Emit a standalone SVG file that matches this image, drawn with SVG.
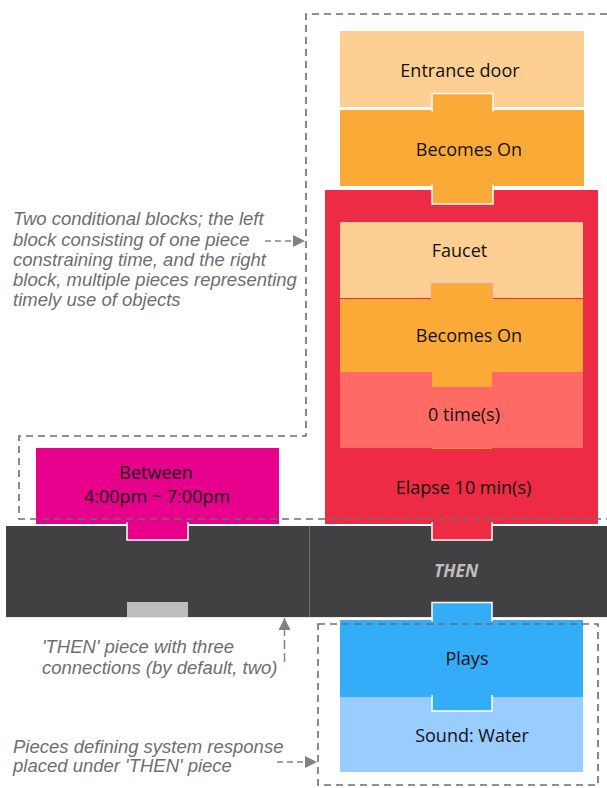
<svg xmlns="http://www.w3.org/2000/svg" width="607" height="788" viewBox="0 0 607 788">
<style>
.lbl{font-family:"Open Sans","Noto Sans",sans-serif;font-size:18px;fill:#111;text-anchor:middle}
.note{font-family:"Liberation Sans",Arial,sans-serif;font-style:italic;font-size:18.5px;fill:#6d6e71}
.then{font-family:"Open Sans","Noto Sans",sans-serif;font-size:17.5px;font-weight:bold;font-style:italic;fill:#bcbec0;text-anchor:middle}
.dash{fill:none;stroke:#6d6e71;stroke-width:1.6;stroke-dasharray:7 5}
.tab{stroke:#fff;stroke-width:1.5}
.peach{fill:#fdcf93}.orange{fill:#fbaa37}.red{fill:#ee2b44}.salmon{fill:#ff6b64}.pink{fill:#e6008c}.dark{fill:#414042}.blue{fill:#33adf8}.lblue{fill:#99ccff}
</style>
<defs>
<marker id="ah2" viewBox="0 0 10 10" refX="10" refY="5" markerWidth="15" markerHeight="12" markerUnits="userSpaceOnUse" orient="auto">
<path d="M0,0 L10,5 L0,10 Z" fill="#808285"/>
</marker>
</defs>

<g id="then-bar">
<rect class="dark" x="6" y="526" width="601" height="91"/>
<line x1="309.5" y1="526" x2="309.5" y2="617" stroke="#6d6e71" stroke-width="1"/>
<line x1="6" y1="617.5" x2="607" y2="617.5" stroke="#e6e7e8" stroke-width="1"/>
<rect x="127" y="602" width="61" height="15" fill="#bcbec0"/>
<text class="then" x="456" y="577">THEN</text>
</g>

<g id="between">
<rect class="pink" x="36" y="448" width="243" height="76"/>
<rect class="pink tab" x="127" y="523" width="61" height="17"/>
<rect class="pink" x="128" y="522" width="59" height="4"/>
<text class="lbl" x="156" y="479">Between</text>
<text class="lbl" x="157" y="503">4:00pm ~ 7:00pm</text>
</g>

<g id="elapse">
<rect class="red" x="325" y="190" width="273" height="334"/>
<rect class="red tab" x="432" y="523" width="60" height="17"/>
<rect class="red" x="433" y="522" width="58" height="4"/>
<text class="lbl" x="463.5" y="494">Elapse 10 min(s)</text>
</g>

<g id="entrance-door">
<rect class="peach" x="340" y="31" width="244" height="76"/>
<text class="lbl" x="460" y="77">Entrance door</text>
</g>

<g id="becomes-on-1">
<rect class="orange" x="340" y="110" width="244" height="76"/>
<rect class="orange tab" x="432" y="93.5" width="61" height="17"/>
<rect class="orange tab" x="432" y="185.5" width="61" height="18.5"/>
<rect class="orange" x="433" y="105" width="59" height="85"/>
<text class="lbl" x="469" y="156">Becomes On</text>
</g>

<g id="faucet">
<rect class="peach" x="340" y="222" width="243" height="76"/>
<text class="lbl" x="459.5" y="257">Faucet</text>
</g>

<g id="zero-times">
<rect class="salmon" x="340" y="372" width="243" height="76"/>
<line x1="432" y1="448.5" x2="492" y2="448.5" stroke="#f7941d" stroke-width="1"/>
<text class="lbl" x="464" y="421">0 time(s)</text>
</g>

<g id="becomes-on-2">
<rect class="orange" x="340" y="299" width="243" height="73"/>
<rect class="orange" x="431.5" y="283.5" width="61" height="17" stroke="#ff9a9a" stroke-width="1"/>
<rect class="orange" x="432" y="370" width="60" height="17"/>
<rect class="orange" x="432" y="296" width="60" height="8"/>
<text class="lbl" x="469" y="342">Becomes On</text>
</g>

<g id="sound-water">
<rect class="lblue" x="340" y="697" width="243" height="75"/>
<text class="lbl" x="472" y="742">Sound: Water</text>
</g>

<g id="plays">
<rect class="blue" x="340" y="620" width="243" height="77"/>
<rect class="blue tab" x="432" y="602.5" width="60" height="18"/>
<rect class="blue tab" x="432" y="696" width="60" height="15"/>
<rect class="blue" x="433" y="612" width="58" height="90"/>
<text class="lbl" x="467" y="665">Plays</text>
</g>

<g id="notes">
<text class="note" x="13" y="225">Two conditional blocks; the left</text>
<text class="note" x="13" y="245.5">block consisting of one piece</text>
<text class="note" x="13" y="266">constraining time, and the right</text>
<text class="note" x="13" y="286">block, multiple pieces representing</text>
<text class="note" x="13" y="306">timely use of objects</text>
<text class="note" x="42" y="653">'THEN' piece with three</text>
<text class="note" x="42" y="674">connections (by default, two)</text>
<text class="note" x="13" y="753">Pieces defining system response</text>
<text class="note" x="13" y="772">placed under 'THEN' piece</text>
</g>

<g id="connectors">
<path class="dash" d="M607,14 H306 V436 H19 V519 H607"/>
<rect class="dash" x="318" y="624" width="280" height="161"/>
<line x1="265" y1="241" x2="305" y2="241" stroke="#808285" stroke-width="1.5" stroke-dasharray="6 4" marker-end="url(#ah2)"/>
<line x1="284.5" y1="662" x2="284.5" y2="618" stroke="#808285" stroke-width="1.5" stroke-dasharray="9 4" marker-end="url(#ah2)"/>
<line x1="277" y1="762" x2="317" y2="762" stroke="#808285" stroke-width="1.5" stroke-dasharray="6 4" marker-end="url(#ah2)"/>
</g>
</svg>
